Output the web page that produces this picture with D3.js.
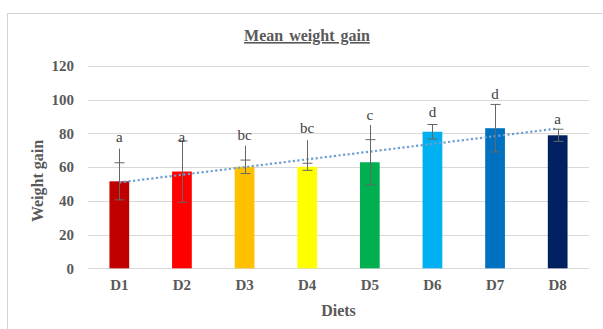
<!DOCTYPE html>
<html>
<head>
<meta charset="utf-8">
<script src="https://cdn.jsdelivr.net/npm/d3@7"></script>
<style>
  html, body { margin: 0; padding: 0; background: #fff; }
  svg { display: block; }
  text { font-family: "Liberation Serif", "Times New Roman", serif; }
</style>
</head>
<body>
<svg id="chart" width="603" height="329"></svg>
<script>
// Diets and their mean weight gain
const diets = ["D1", "D2", "D3", "D4", "D5", "D6", "D7", "D8"];
const meanGain = [51.6, 57.4, 60.2, 60.2, 62.9, 81, 83.1, 78.9];
const errorSize = [11, 18.2, 4, 2.1, 13.4, 4.3, 14.1, 3.6];
// upper whisker tip where it reaches past the cap (null = ends at the cap)
const whiskerTop = [71, null, 72.7, 76, 85, null, null, null];
// significance letters and the level they sit at
const letters = ["a", "a", "bc", "bc", "c", "d", "d", "a"];
const letterLevel = [71, 70.5, 72, 76, 84, 85.5, 96, 81.5];
const yTicks = [0, 20, 40, 60, 80, 100, 120];
const barColors = ["#c00000", "#ff0000", "#ffc000", "#ffff00", "#00b050", "#00b0f0", "#0070c0", "#002060"];

const SERIF = '"Liberation Serif", "Times New Roman", serif';
const svg = d3.select("#chart");
const W = 603, H = 329;
const plotL = 88, plotR = 589, plotT = 66, plotB = 268.3;

// outer chart frame
svg.append("rect")
  .attr("x", 7.5).attr("y", 13.5)
  .attr("width", W + 10).attr("height", H + 10)
  .attr("fill", "#fff").attr("stroke", "#d4d4d4").attr("stroke-width", 1);

const x = d3.scaleBand().domain(diets).range([plotL, plotR]).paddingInner(0.685).paddingOuter(0.3425);
const y = d3.scaleLinear().domain([0, 120]).range([plotB, plotT]);

// gridlines
svg.append("g")
  .selectAll("line").data(yTicks).join("line")
  .attr("x1", plotL).attr("x2", plotR)
  .attr("y1", d => Math.round(y(d)) + 0.5).attr("y2", d => Math.round(y(d)) + 0.5)
  .attr("stroke", "#d9d9d9").attr("stroke-width", 1);

// y axis labels
const yAxis = svg.append("g").attr("transform", `translate(${plotL},0)`)
  .call(d3.axisLeft(y).tickValues(yTicks).tickSize(0).tickPadding(14));
yAxis.select(".domain").remove();
yAxis.selectAll("text")
  .style("font-family", SERIF)
  .attr("font-size", 15).attr("font-weight", "bold").attr("fill", "#595959");

// x axis labels
const xAxis = svg.append("g").attr("transform", `translate(0,${plotB})`)
  .call(d3.axisBottom(x).tickSize(0).tickPadding(11));
xAxis.select(".domain").remove();
xAxis.selectAll("text")
  .style("font-family", SERIF)
  .attr("font-size", 15).attr("font-weight", "bold").attr("fill", "#595959");

// bars
svg.append("g")
  .selectAll("rect").data(diets).join("rect")
  .attr("x", d => x(d))
  .attr("y", (d, i) => y(meanGain[i]))
  .attr("width", x.bandwidth())
  .attr("height", (d, i) => y(0) - y(meanGain[i]))
  .attr("fill", (d, i) => barColors[i]);

// linear trendline fitted to the means
const xs = diets.map((d, i) => i + 1);
const mx = d3.mean(xs), my = d3.mean(meanGain);
const slope = d3.sum(xs, (v, i) => (v - mx) * (meanGain[i] - my)) / d3.sum(xs, v => (v - mx) ** 2);
const icpt = my - slope * mx;
const trend = [1, diets.length].map(v => [x(diets[v - 1]) + x.bandwidth() / 2, y(icpt + slope * v)]);
svg.append("path")
  .attr("d", d3.line()(trend))
  .attr("fill", "none").attr("stroke", "#6e9fcf")
  .attr("stroke-width", 2.2).attr("stroke-dasharray", "2.2 2.4");

// error bars
const eb = svg.append("g").attr("stroke", "#666").attr("stroke-width", 1);
diets.forEach((d, i) => {
  const cx = Math.round(x(d) + x.bandwidth() / 2) + 0.5;
  const hi = meanGain[i] + errorSize[i], lo = meanGain[i] - errorSize[i];
  const tip = Math.max(hi, whiskerTop[i] ?? hi);
  eb.append("line").attr("x1", cx).attr("x2", cx).attr("y1", y(lo)).attr("y2", y(tip));
  [hi, lo].forEach(v => eb.append("line")
    .attr("x1", cx - 5).attr("x2", cx + 5).attr("y1", y(v)).attr("y2", y(v)));
});

// significance letters
svg.append("g")
  .selectAll("text").data(letters).join("text")
  .attr("x", (d, i) => x(diets[i]) + x.bandwidth() / 2)
  .attr("y", (d, i) => y(letterLevel[i]) - 7)
  .attr("text-anchor", "middle")
  .attr("font-size", 15).attr("fill", "#404040")
  .text(d => d);

// title
svg.append("text")
  .attr("x", 307).attr("y", 41)
  .attr("text-anchor", "middle")
  .attr("font-size", 16).attr("font-weight", "bold").attr("fill", "#595959")
  .attr("text-decoration", "underline")
  .attr("word-spacing", 2)
  .text("Mean weight gain");

// axis titles
svg.append("text")
  .attr("x", (plotL + plotR) / 2).attr("y", 316)
  .attr("text-anchor", "middle")
  .attr("font-size", 16).attr("font-weight", "bold").attr("fill", "#595959")
  .text("Diets");

svg.append("text")
  .attr("transform", "translate(43,181) rotate(-90)")
  .attr("text-anchor", "middle")
  .attr("font-size", 16).attr("font-weight", "bold").attr("fill", "#595959")
  .text("Weight gain");
</script>
</body>
</html>
